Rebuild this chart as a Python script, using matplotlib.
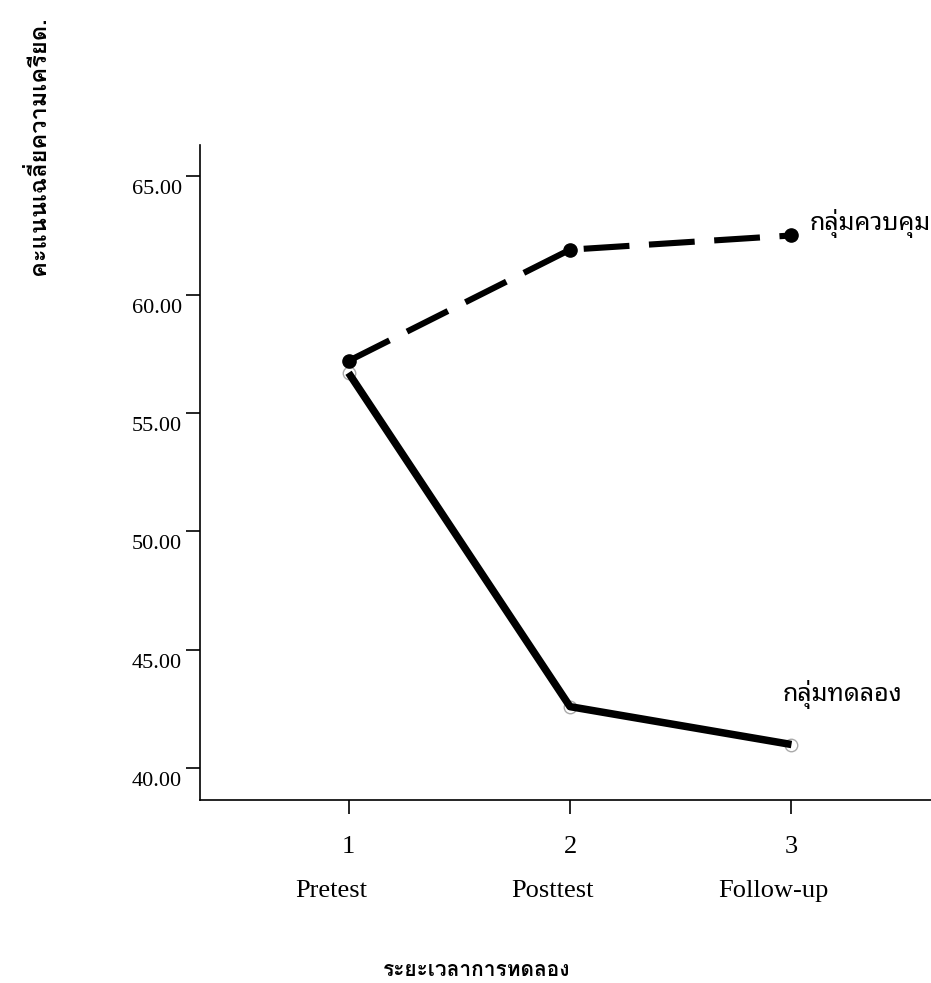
import matplotlib
matplotlib.use("Agg")
import matplotlib.pyplot as plt
import matplotlib.transforms as mtransforms

# ============================================
# Data: mean stress scores over the three test periods
# ============================================
periods = [1, 2, 3]
period_names = ["Pretest", "Posttest", "Follow-up"]
control_scores = [57.2, 61.9, 62.5]        # กลุ่มควบคุม
experiment_scores = [56.7, 42.6, 41.0]     # กลุ่มทดลอง
y_ticks = [40, 45, 50, 55, 60, 65]

label_font = ["Loma", "Noto Sans Thai Looped", "DejaVu Sans"]
note_font = ["Umpush", "Noto Sans Thai Looped", "DejaVu Sans"]
serif_font = ["Liberation Serif", "DejaVu Serif"]

fig = plt.figure(figsize=(9.31, 9.83), dpi=100)
ax = fig.add_axes([0.215, 0.186, 0.785, 0.666])

# control group: dashed with filled dots
ax.plot(periods, control_scores, color="black", linewidth=4.4,
        linestyle=(0, (7.5, 3.2)), dash_capstyle="butt", zorder=2)
ax.plot(periods, control_scores, linestyle="none", marker="o",
        markersize=9.5, color="black", zorder=3)

# experimental group: thick solid with faint hollow dots
ax.plot(periods, experiment_scores, color="black", linewidth=5.4,
        solid_capstyle="butt", zorder=2)
ax.plot(periods, experiment_scores, linestyle="none", marker="o",
        markersize=9, markerfacecolor="none", markeredgecolor="#aaaaaa",
        markeredgewidth=1, zorder=1)

ax.text(3.08, control_scores[2] + 0.5, "กลุ่มควบคุม", family=note_font,
        fontsize=18, va="center", ha="left")
ax.text(2.96, experiment_scores[2] + 2.1, "กลุ่มทดลอง", family=note_font,
        fontsize=18, va="center", ha="left")

ax.set_xlim(0.33, 3.63)
ax.set_ylim(38.65, 66.3)

ax.spines["top"].set_visible(False)
ax.spines["right"].set_visible(False)
ax.spines["left"].set_linewidth(1.2)
ax.spines["bottom"].set_linewidth(1.2)
ax.tick_params(axis="y", direction="out", length=10, width=1.2, pad=3)
ax.tick_params(axis="x", direction="out", length=10, width=1.2, pad=16)

ax.set_yticks(y_ticks)
ax.set_yticklabels([f"{v:.2f}" for v in y_ticks], family=serif_font, fontsize=16)
# labels sit a little below their ticks, as in the original output
shift = mtransforms.ScaledTranslation(0, -11 / 100, fig.dpi_scale_trans)
for lab in ax.get_yticklabels():
    lab.set_transform(lab.get_transform() + shift)

ax.set_xticks(periods)
ax.set_xticklabels([str(p) for p in periods], family=serif_font, fontsize=19)
for p, name in zip(periods, period_names):
    ax.text(p - 0.08, -0.139, name, transform=ax.get_xaxis_transform(),
            family=serif_font, fontsize=19, ha="center", va="center")

fig.text(0.041, 0.852, "คะแนนเฉลี่ยความเครียด.", family=label_font,
         fontsize=17, fontweight="bold", rotation=90, ha="center", va="center")
fig.text(0.512, 0.013, "ระยะเวลาการทดลอง", family=label_font,
         fontsize=15, fontweight="bold", ha="center", va="center")

fig.savefig("out.png", dpi=100, facecolor="white")
